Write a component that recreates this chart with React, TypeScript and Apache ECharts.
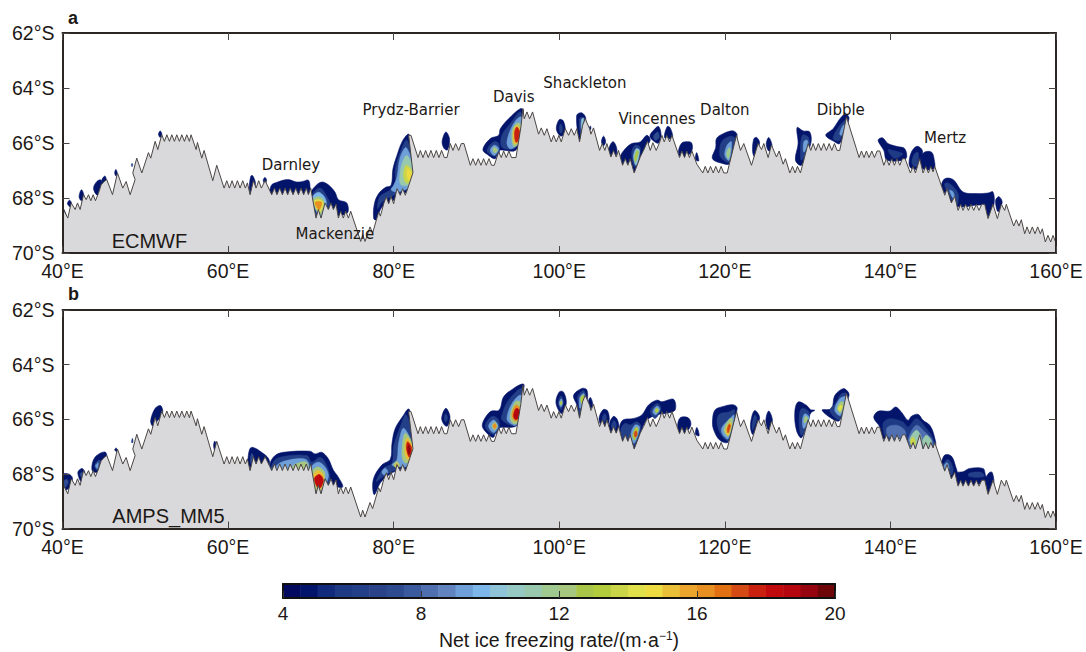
import React, { useEffect, useRef } from "react";
import * as echarts from "echarts";

const lonTicks = { min: 40, max: 160, step: 20 };
const latTicks = { min: -70, max: -62, step: 2 };

// coast, flat lon,lat pairs
const coast = [
40,-68.35, 40.64,-68.73, 41.05,-68.18, 41.53,-68.42, 41.81,-68.18, 42.13,-68.42, 42.54,-67.88, 42.86,-68.06, 43.14,-67.88, 43.42,-68.1, 43.7,-67.88, 43.98,-68.1, 44.35,-67.82, 44.67,-67.52, 45.03,-67.4, 45.35,-67.33, 46.04,-67.88, 46.64,-67.09, 47.28,-67.64, 47.69,-67.4, 48.17,-67.88, 48.77,-67.33, 48.49,-67.09, 48.97,-66.55, 49.58,-67.09, 50.38,-66.35, 50.66,-66.55, 51.19,-65.94, 51.51,-66.24, 51.99,-65.7,
52.31,-65.94, 52.6,-65.7, 52.92,-65.94, 53.2,-65.7, 53.52,-65.94, 53.8,-65.7, 54.12,-65.94, 54.41,-65.7, 54.73,-65.94, 55.01,-65.7, 55.33,-65.94, 55.53,-65.7, 56.14,-66.24, 56.3,-65.98, 56.82,-66.55, 57.1,-66.27, 58.15,-67.37, 58.63,-66.81, 59.52,-67.64, 59.84,-67.37, 60.16,-67.64, 60.48,-67.37, 60.8,-67.64, 61.13,-67.37, 61.45,-67.64, 61.77,-67.37, 62.09,-67.64, 62.33,-67.45, 62.66,-67.88, 63.06,-67.37, 63.38,-67.64, 63.7,-67.37, 64.02,-67.64, 64.47,-67.37,
65.27,-67.88, 65.6,-67.64, 65.9,-67.88, 66.24,-67.64, 66.56,-67.88, 66.88,-67.64, 67.2,-67.88, 67.5,-67.64, 67.85,-67.88, 68.17,-67.64, 68.5,-67.88, 68.8,-67.64, 69.13,-67.88, 69.45,-67.64, 69.7,-67.88, 69.98,-67.64, 70.62,-68.73, 70.9,-68.42, 71.23,-68.73, 71.71,-68.18, 72.11,-68.42, 72.43,-68.18, 72.72,-68.42, 73.04,-68.22, 73.32,-68.73, 73.6,-68.48, 73.92,-68.73, 74.21,-68.48, 74.53,-68.73, 74.81,-68.48, 76.02,-69.58, 76.26,-69.33, 76.54,-69.58, 77.14,-69.05, 77.46,-69.27, 78.19,-68.51,
78.39,-68.66, 78.59,-68.45, 78.79,-68.21, 79.11,-67.96, 79.4,-68.21, 79.68,-67.94, 80,-68.21, 80.4,-67.66, 80.8,-67.9, 81.09,-67.66, 81.41,-67.9, 81.69,-67.66, 82.33,-67.08, 81.81,-65.72, 82.09,-65.72, 82.94,-66.53, 83.22,-66.27, 83.54,-66.53, 83.86,-66.27, 84.18,-66.53, 84.5,-66.27, 84.83,-66.53, 85.15,-66.27, 85.47,-66.53, 85.79,-66.27, 86.12,-66.53, 86.44,-66.53, 86.84,-66.02, 87.16,-66.27, 87.48,-66.02, 87.85,-66.27, 88.17,-66.02, 88.49,-66.02, 89.26,-66.81, 89.58,-66.57, 89.9,-66.81, 90.22,-66.57, 90.54,-66.81, 90.86,-66.57, 91.19,-66.81, 91.51,-66.57, 91.83,-66.81, 92.15,-66.81, 92.68,-66.33, 93,-66.53, 93.28,-66.29, 93.6,-66.53, 93.92,-66.29, 94.24,-66.53, 94.77,-66.53, 95.37,-65.42, 95.61,-64.75, 95.77,-65.12, 96.1,-64.87, 96.42,-65.12, 96.78,-64.87, 97.5,-65.68, 97.83,-65.45, 98.19,-65.72, 98.51,-65.48, 99.03,-65.96, 99.32,-65.72, 99.64,-65.96, 99.96,-65.72, 100.24,-65.96, 100.72,-65.48, 101.13,-65.72, 101.45,-65.48, 101.81,-65.72, 102.13,-65.48, 102.45,-65.96, 102.82,-65.36, 103.14,-65.12, 103.66,-65.48, 103.82,-65.68, 104.14,-65.45, 104.87,-66.27, 105.19,-66.02, 105.51,-66.27, 105.75,-66.02, 106.24,-66.51, 106.56,-66.27, 106.88,-66.51, 107.16,-66.27, 107.65,-66.81, 107.97,-66.57, 108.29,-66.81, 108.57,-66.57, 109.05,-67.09, 109.78,-66.51, 110.18,-66.27, 110.66,-65.94, 110.99,-66.27, 111.31,-65.99, 111.71,-66.27, 112.11,-65.99, 112.4,-65.72, 112.68,-65.96, 113,-65.72, 113.33,-65.96, 113.61,-65.72, 114.53,-66.53, 114.81,-66.29, 115.13,-66.53, 115.41,-66.29, 115.73,-66.53, 116.02,-66.29, 116.62,-66.77, 117.34,-67.09, 117.63,-66.85, 117.95,-67.09, 118.27,-66.85, 118.6,-67.09, 118.9,-66.85, 119.25,-67.09, 119.55,-66.85, 119.88,-67.09,
120.28,-67.09, 121.41,-65.72, 121.89,-66.27, 122.29,-66.02, 123.22,-66.81, 124.02,-66.02, 124.43,-66.24, 124.71,-66.02, 125.23,-66.53, 125.63,-66.07, 126.24,-66.51, 126.56,-66.29, 127.04,-66.77, 127.32,-66.57, 127.85,-67.09, 128.17,-66.85, 128.49,-67.09, 128.77,-66.85, 129.13,-67.09, 130.06,-66.02, 130.38,-66.27, 130.66,-66.02, 130.98,-66.27, 131.3,-66.02, 131.63,-66.27, 131.95,-66.02, 132.27,-66.27, 132.6,-66.02, 132.92,-66.27, 133.24,-66.02, 133.56,-66.27, 133.88,-66.27, 134.69,-65.05, 136.22,-66.53, 136.5,-66.29, 136.82,-66.53, 137.1,-66.29, 137.42,-66.53, 137.75,-66.29, 138.07,-66.53, 138.39,-66.29, 138.71,-66.29, 139.2,-66.81, 139.52,-66.57, 139.84,-66.81, 140.16,-66.57, 140.48,-66.81, 140.8,-66.57, 141.13,-66.81, 141.45,-66.57, 141.77,-66.57, 142.41,-67.09, 142.74,-66.85, 143.02,-67.09, 143.54,-66.57, 143.94,-67.09, 144.27,-66.85, 144.59,-67.09, 144.87,-66.85, 145.15,-67.05, 145.35,-66.85, 146.56,-67.9, 146.84,-67.66, 147.36,-68.18, 147.77,-67.94, 148.17,-68.45, 148.49,-68.23, 148.77,-68.45, 149.09,-68.23, 149.42,-68.45, 149.74,-68.23, 150.06,-68.45, 150.38,-68.23, 150.7,-68.45, 151.03,-68.23, 151.39,-68.23, 151.79,-68.75, 152.39,-68.23, 152.92,-68.75, 153.4,-68.23, 153.8,-68.45, 154,-68.23, 154.89,-69.02, 155.21,-68.79, 155.53,-69.02, 155.81,-68.79, 156.22,-69.3, 156.5,-69.05, 156.82,-69.3, 157.14,-69.05, 157.46,-69.3, 157.79,-69.05, 158.11,-69.3, 158.35,-69.12, 158.71,-69.6, 159.03,-69.36, 159.36,-69.6, 159.64,-69.36, 160,-69.64,
];

const barLevels = [4,4.5,5,5.5,6,6.5,7,7.5,8,8.5,9,9.5,10,10.5,11,11.5,12,12.5,13,13.5,14,14.5,15,15.5,16,16.5,17,17.5,18,18.5,19,19.5];
const barColors = ["#02095e","#03146b","#112a7c","#1f3a85","#233f88","#2a4288","#2f4b8f","#3a5a9d","#4f6fb0","#6184c0","#6f9fd8","#7cb6ea","#8fc3d8","#96c8c4","#98c8ae","#9fc98f","#a6c77d","#aac648","#b2cc3c","#cad648","#dfe04a","#ecdc42","#eabf38","#eba52c","#e88f22","#e07012","#d44a14","#c9200f","#c00a0e","#b5060f","#960410","#6e0508"];

// each layer: freezing rate, then lon,lat pairs of its contour
const blobsA = [
[4.5, 39.8,-68.25, 40.3,-68.5, 40.4,-68.7, 39.8,-68.8],
[4.5, 40.6,-68.2, 40.85,-68.08, 41.1,-68.2, 40.9,-68.32],
[4.5, 42,-67.95, 42.3,-67.7, 42.6,-67.95, 42.3,-68.1],
[4.5, 43.75,-67.65, 44.15,-67.4, 44.65,-67.35, 44.7,-67.75, 44.2,-67.9],
[4.5, 44.7,-67.4, 45.1,-67.2, 45.3,-67.35, 45,-67.6],
[4.5, 46.3,-67.08, 46.45,-66.96, 46.6,-67.08, 46.45,-67.2],
[5.5, 48.32,-66.8, 48.4,-66.74, 48.48,-66.8, 48.4,-66.86],
[4.5, 51.6,-65.68, 51.8,-65.56, 52,-65.68, 51.8,-65.8],
[4.5, 62.55,-67.7, 62.75,-67.2, 63,-67.2, 63.3,-67.5, 62.8,-68],
[4.5, 64.25,-67.35, 64.45,-67.25, 64.65,-67.35, 64.45,-67.5],
[4.5, 65.2,-67.55, 66,-67.42, 67.2,-67.33, 68.3,-67.42, 69,-67.4, 69.7,-67.35, 69.9,-67.6, 69.8,-68, 65.2,-68],
[4.5, 69.98,-67.82, 70.5,-67.58, 71.31,-67.42, 72.11,-67.52, 72.92,-67.79, 73.32,-68.06, 74.33,-68.18, 74.4,-68.55, 72.72,-68.67, 71.11,-68.85, 70.5,-68.55, 69.98,-68.06],
[6, 70.22,-67.88, 71.11,-67.64, 71.91,-67.94, 72.31,-68.3, 71.11,-68.79, 70.5,-68.55],
[9.5, 70.22,-68, 70.9,-67.79, 71.71,-68, 71.83,-68.3, 71.11,-68.67],
[12, 70.3,-68.06, 71.03,-67.96, 71.59,-68.12, 71.11,-68.61],
[14, 70.38,-68.12, 71.03,-68.06, 71.51,-68.18, 71.03,-68.52],
[16, 70.5,-68.16, 71.31,-68.15, 70.99,-68.42],
[4.5, 77.59,-68.75, 77.67,-68.21, 78.19,-67.84, 78.99,-67.62, 79.68,-67.54, 79.92,-66.93, 80.4,-66.45, 81.01,-65.96, 81.69,-65.68, 81.93,-65.72, 82.5,-67.12, 81.93,-67.66, 80,-68.08, 78.59,-68.33, 77.91,-68.79],
[6, 78.07,-68.39, 78.31,-67.96, 79.2,-67.78, 80.2,-67.6, 80.2,-66.99, 80.8,-66.33, 81.61,-65.9, 82.41,-67.05, 81.93,-67.6, 80,-67.9, 78.59,-68.15],
[9, 79.68,-67.7, 80,-67.54, 80.4,-67.24, 80.8,-66.51, 81.53,-66.17, 82.41,-67.05, 81.93,-67.58, 80.4,-67.78],
[11, 80.72,-67.36, 81.01,-66.75, 81.61,-66.45, 82.41,-67.05, 81.93,-67.5, 81,-67.54],
[13.5, 81.21,-67.12, 81.53,-66.81, 82.25,-67.05, 81.81,-67.45, 81.4,-67.42],
[14.5, 81.61,-67.18, 81.69,-66.93, 82.17,-67.12, 81.85,-67.36],
[4.5, 85.85,-65.95, 86.3,-65.6, 86.75,-65.85, 86.5,-66.25, 86.1,-66.2],
[4.5, 90.78,-66.24, 91.67,-65.84, 92.68,-65.72, 92.88,-65.48, 93.88,-65.12, 95.29,-64.75, 95.69,-64.81, 95.29,-65.78, 94.69,-66.27, 92.68,-66.27, 92.27,-66.57, 91.47,-66.45],
[6, 91.27,-66.27, 92.07,-65.96, 92.68,-66.02, 92.68,-66.45, 91.87,-66.45],
[6, 93.08,-65.72, 94.08,-65.3, 95.29,-64.87, 95.49,-65.42, 95.09,-65.96, 94.48,-66.21, 93.08,-66.15],
[9, 91.67,-66.27, 92.15,-66.08, 92.68,-66.21, 92.15,-66.45],
[9, 93.68,-65.96, 94.48,-65.3, 95.37,-65.05, 95.49,-65.54, 95.09,-66.02, 94.08,-66.21],
[12, 91.99,-66.24, 92.15,-66.15, 92.55,-66.27, 92.19,-66.36],
[12, 94.29,-65.6, 94.77,-65.3, 95.29,-65.3, 95.49,-65.6, 95.09,-66.02, 94.48,-66.12],
[15, 94.48,-65.6, 94.89,-65.36, 95.37,-65.6, 95.09,-65.96, 94.57,-66.02],
[17.5, 94.61,-65.6, 94.89,-65.42, 95.25,-65.64, 95.01,-65.94, 94.73,-65.96],
[4.5, 99.65,-65.5, 100,-65.15, 100.5,-65.2, 100.7,-65.6, 100.2,-65.75],
[6, 100,-65.45, 100.2,-65.3, 100.4,-65.5, 100.2,-65.65],
[4.5, 102.1,-65, 102.7,-64.9, 103.2,-65.1, 102.9,-65.8, 102.45,-65.9],
[7, 102.5,-65.1, 103,-65.1, 102.6,-65.7],
[10, 102.7,-65.15, 102.95,-65.1, 102.7,-65.5],
[4.5, 103.65,-65.45, 103.74,-65.38, 103.83,-65.45, 103.74,-65.52],
[4.5, 105.1,-65.95, 105.35,-65.75, 105.6,-65.95, 105.35,-66.1],
[4.5, 106,-66.2, 106.5,-65.95, 106.95,-66.2, 106.8,-66.5, 106.2,-66.45],
[4.5, 107.36,-66.51, 107.97,-66.21, 108.77,-66.02, 109.78,-65.96, 110.58,-65.72, 110.99,-65.9, 110.18,-66.27, 109.78,-66.51, 109.05,-67.09, 108.49,-66.75, 107.56,-66.81],
[6, 108.77,-66.33, 109.17,-66.08, 109.78,-66.17, 109.37,-66.87, 108.97,-66.81],
[10, 108.97,-66.51, 109.29,-66.21, 109.7,-66.27, 109.29,-66.81],
[12.5, 109.09,-66.57, 109.37,-66.27, 109.57,-66.33, 109.21,-66.69],
[4.5, 110.95,-65.75, 111.5,-65.5, 112,-65.4, 112.3,-65.7, 112,-66, 111.5,-65.95],
[7, 111.4,-65.75, 111.9,-65.6, 112.05,-65.8, 111.6,-65.9],
[4.5, 112.7,-65.8, 113.05,-65.4, 113.4,-65.45, 113.7,-65.8, 113.2,-65.85],
[4.5, 114.4,-66.3, 114.8,-66, 115.5,-65.95, 116,-66, 116,-66.3, 115.3,-66.5, 114.6,-66.5],
[4.5, 116.45,-66.6, 116.6,-66.35, 116.85,-66.65],
[4.5, 118.51,-66.57, 118.91,-66.15, 118.99,-65.84, 119.8,-65.66, 121.01,-65.56, 121.49,-65.72, 120.52,-66.75, 119.8,-66.75],
[6, 119.4,-66.45, 119.6,-65.96, 120.6,-65.76, 121.2,-65.84, 120.52,-66.69, 119.88,-66.63],
[9, 120,-66.45, 120.28,-66.08, 120.8,-65.96, 120.52,-66.63],
[11.5, 120.2,-66.39, 120.52,-66.17, 120.68,-66.24, 120.44,-66.57],
[4.5, 123.35,-66.3, 123.5,-65.85, 123.85,-65.8, 124.2,-66, 123.6,-66.5],
[4.5, 125,-66.05, 125.3,-65.8, 125.7,-66.1, 125.35,-66.3],
[4.5, 128.73,-65.44, 129.46,-65.56, 130.26,-65.6, 130.38,-66.02, 129.26,-66.81, 128.53,-66.63, 128.85,-66.02],
[6, 129.13,-66.27, 129.38,-65.72, 130.06,-65.78, 130.2,-66.08, 129.26,-66.63],
[9, 129.54,-65.96, 129.94,-65.9, 130.02,-66.08, 129.54,-66.33],
[4.5, 132.19,-65.72, 133.08,-65.48, 134.08,-65.05, 134.69,-64.96, 135,-65.12, 133.88,-66.02, 133.28,-65.96],
[6, 133.08,-65.84, 133.88,-65.36, 134.6,-65.18, 133.88,-65.9],
[9, 133.88,-65.66, 134.28,-65.36, 134.48,-65.36, 134.08,-65.72],
[4.5, 138.51,-65.9, 139.03,-65.81, 139.71,-66.02, 140.72,-66.12, 141.73,-66.21, 141.85,-66.57, 139.6,-66.63, 139.2,-66.27],
[5.5, 139.7,-66.25, 140.7,-66.3, 141.5,-66.4, 140.5,-66.55],
[4.5, 142.25,-66.75, 142.54,-66.33, 143.22,-66.12, 143.86,-66.27, 143.74,-66.57, 143.34,-66.93, 142.54,-66.93],
[6, 142.6,-66.75, 142.9,-66.4, 143.35,-66.35, 143.2,-66.85],
[4.5, 143.74,-66.51, 144.14,-66.33, 144.95,-66.33, 145.27,-66.57, 145.27,-66.93, 143.86,-66.93],
[4.5, 146.16,-67.6, 146.56,-67.3, 147.57,-67.33, 148.77,-67.78, 150.38,-67.84, 151.79,-67.82, 152.39,-67.78, 152.52,-68.21, 152,-68.69, 151.59,-68.57, 151.19,-68.27, 148.37,-68.33, 147.57,-68.21, 146.76,-67.9],
[6, 146.56,-67.48, 147.16,-67.48, 148.17,-67.84, 147.97,-68.27, 146.96,-67.84],
[9, 147.16,-67.72, 147.57,-67.78, 147.77,-68.08, 147.36,-67.9],
[4.5, 152.7,-68.1, 153.1,-67.95, 153.5,-68.15, 153,-68.5],
];

const blobsB = [
[4.5, 39.8,-68.05, 40.7,-68, 41.2,-68.15, 40.9,-68.5, 40.4,-68.6, 39.8,-68.8],
[7, 40.1,-68.3, 40.5,-68.2, 40.7,-68.3, 40.3,-68.5],
[4.5, 41.85,-67.95, 42.35,-67.8, 42.7,-67.95, 42.3,-68.3],
[7, 42.1,-68, 42.4,-67.95, 42.4,-68.15],
[4.5, 43.55,-67.85, 43.9,-67.4, 45.15,-67.2, 45.35,-67.55, 44.7,-67.75, 44.1,-67.95],
[7, 43.9,-67.7, 44.35,-67.5, 44.6,-67.55, 44.2,-67.85],
[9, 44,-67.7, 44.3,-67.6, 44.2,-67.8],
[4.5, 46.3,-67.12, 46.5,-67.05, 46.6,-67.2],
[5, 48.35,-66.85, 48.45,-66.7, 48.5,-66.85],
[4.5, 50.65,-66.05, 51.2,-65.6, 51.85,-65.5, 52.1,-65.75, 51.5,-66.05, 50.9,-66.25],
[4.5, 58.25,-66.95, 58.4,-66.8, 58.65,-67.1, 58.4,-67.15],
[4.5, 62.4,-67.6, 62.6,-67.1, 63,-67.03, 64,-67.2, 64.9,-67.45, 64.9,-67.7, 63,-67.8, 62.6,-67.9],
[7, 62.7,-67.55, 62.85,-67.25, 63.1,-67.4, 63,-67.7],
[4.5, 65.07,-67.63, 65.67,-67.33, 66.68,-67.21, 69.9,-67.17, 70.5,-67.27, 71.31,-67.21, 72.11,-67.45, 72.72,-67.87, 73.32,-68.12, 73.84,-68.48, 72.72,-68.48, 71.31,-68.72, 70.5,-68.72, 69.7,-68.12, 65.27,-68.12],
[6, 65.27,-67.69, 66.08,-67.41, 69.5,-67.33, 70.1,-67.57, 71.11,-67.39, 71.71,-67.57, 72.31,-68.12, 72.11,-68.36, 71.11,-68.72, 69.7,-68, 65.27,-68],
[9, 65.88,-67.69, 67.08,-67.51, 69.42,-67.48, 69.7,-67.87, 65.88,-67.87],
[9, 70.1,-67.75, 70.9,-67.57, 71.71,-67.75, 72.11,-68.12, 71.1,-68.66, 70.5,-68.48],
[12, 67.89,-67.69, 69.42,-67.57, 69.58,-67.87, 67.89,-67.87],
[12, 70.1,-67.93, 70.9,-67.75, 71.71,-68, 71.03,-68.66, 70.3,-68.48],
[15, 70.3,-68.06, 70.9,-67.87, 71.59,-68.12, 71.03,-68.63, 70.62,-68.42],
[18, 70.42,-68.18, 71.03,-68.02, 71.51,-68.24, 70.99,-68.54],
[4.5, 77.46,-68.46, 77.67,-68.09, 78.59,-67.67, 79.6,-67.46, 79.8,-66.88, 80.2,-66.33, 81.21,-65.84, 81.69,-65.63, 81.93,-65.66, 82.41,-67.06, 81.93,-67.79, 80.6,-67.85, 79.2,-68.09, 78.39,-68.33, 77.67,-68.76],
[6, 77.91,-68.27, 78.79,-67.79, 79.8,-67.61, 80,-67, 80.8,-66.27, 81.53,-65.84, 82.41,-67.06, 81.93,-67.73, 80.6,-67.79, 78.79,-68.09],
[9, 78.59,-67.91, 78.99,-67.79, 79.28,-67.95, 78.79,-68.03],
[9, 79.8,-67.67, 80.4,-67.48, 80.6,-66.88, 81.21,-66.33, 82.33,-67.06, 81.93,-67.67, 80.6,-67.73],
[12, 80,-67.67, 80.4,-67.55, 80.72,-67.7, 80.4,-67.79],
[12, 81.01,-67.12, 81.41,-66.51, 82.41,-67.06, 81.93,-67.58, 81.21,-67.55],
[15, 80.25,-67.7, 80.4,-67.6, 80.55,-67.72, 80.4,-67.8],
[15, 81.33,-67.12, 81.61,-66.69, 82.29,-67.06, 81.93,-67.51, 81.53,-67.42],
[17.5, 81.53,-67.06, 81.69,-66.82, 82.17,-67.06, 81.89,-67.39],
[19, 81.69,-67.06, 81.81,-66.94, 82.01,-67.12, 81.85,-67.3],
[4.5, 85.8,-65.95, 86.3,-65.6, 86.8,-65.9, 86.5,-66.25, 86.1,-66.2],
[6, 86.1,-65.95, 86.3,-65.8, 86.5,-65.95, 86.3,-66.1],
[4.5, 90.7,-66.21, 91.67,-65.72, 92.76,-65.66, 93.28,-65.18, 94.49,-64.87, 95.49,-64.71, 95.77,-64.75, 95.09,-66.03, 94.69,-66.27, 92.47,-66.33, 92.07,-66.66, 91.27,-66.51],
[6, 91.07,-66.25, 91.87,-65.9, 92.68,-66.03, 92.68,-66.45, 91.87,-66.54],
[6, 93.08,-65.84, 93.88,-65.3, 95.49,-64.87, 95.29,-65.72, 94.89,-66.09, 94.48,-66.25, 93.08,-66.03],
[9, 91.47,-66.25, 92.07,-66.03, 92.6,-66.25, 92.07,-66.49],
[9, 93.68,-65.97, 94.29,-65.42, 95.37,-65.12, 95.37,-65.72, 94.81,-66.21, 94.08,-66.15],
[12, 91.87,-66.25, 92.19,-66.11, 92.52,-66.25, 92.19,-66.39],
[12, 94.08,-65.84, 94.69,-65.36, 95.29,-65.36, 95.49,-65.72, 94.89,-66.15, 94.29,-66.12],
[16, 92,-66.25, 92.2,-66.15, 92.4,-66.25, 92.2,-66.35],
[16, 94.29,-65.84, 94.77,-65.48, 95.37,-65.66, 95.01,-66.03, 94.57,-66.05],
[18.5, 94.49,-65.84, 94.81,-65.6, 95.25,-65.71, 94.97,-65.98, 94.65,-66],
[4.5, 99.6,-65.4, 100,-65, 100.5,-65, 100.85,-65.4, 100.3,-65.8],
[6, 99.9,-65.4, 100.2,-65.15, 100.5,-65.35, 100.2,-65.65],
[9, 100,-65.4, 100.25,-65.25, 100.4,-65.4, 100.2,-65.55],
[13, 100.1,-65.4, 100.25,-65.33, 100.32,-65.42, 100.2,-65.48],
[4.5, 101.73,-65.12, 102.74,-64.87, 103.34,-64.93, 103.34,-65.36, 102.45,-65.93, 102.13,-65.48],
[6, 102.21,-65.18, 102.94,-64.95, 103.22,-65.24, 102.45,-65.85, 102.33,-65.42],
[9, 102.45,-65.24, 102.94,-65.05, 103.1,-65.24, 102.53,-65.6],
[13, 102.61,-65.2, 102.9,-65.12, 102.94,-65.27, 102.69,-65.42],
[4.5, 103.5,-65.4, 103.75,-65.2, 104.05,-65.45, 103.8,-65.6],
[4.5, 104.8,-66, 105.3,-65.65, 105.85,-65.7, 106,-66.1, 105.3,-66.3],
[6, 105.2,-65.95, 105.5,-65.8, 105.7,-65.95, 105.4,-66.1],
[4.5, 106,-66.3, 106.5,-65.9, 107,-66, 107.2,-66.4, 106.6,-66.6],
[6, 106.3,-66.25, 106.6,-66.05, 106.9,-66.2, 106.6,-66.4],
[4.5, 107.28,-66.33, 107.69,-66.03, 108.97,-65.97, 109.98,-65.84, 110.78,-65.48, 111.79,-65.3, 112.39,-65.36, 113.8,-65.27, 114,-65.66, 113,-65.78, 111.79,-65.84, 110.58,-66.03, 109.78,-66.51, 109.05,-67.06, 108.49,-66.76, 107.56,-66.82],
[6, 107.44,-66.39, 107.97,-66.15, 108.57,-66.21, 109.37,-66.09, 109.86,-66.27, 109.05,-67, 108.37,-66.7, 107.77,-66.76],
[6, 110.99,-65.72, 111.79,-65.42, 112.27,-65.6, 111.59,-65.97],
[9, 108.65,-66.57, 109.17,-66.21, 109.7,-66.29, 109.05,-66.88],
[9, 111.31,-65.72, 111.79,-65.52, 112.15,-65.64, 111.63,-65.84],
[13, 108.89,-66.57, 109.29,-66.29, 109.53,-66.37, 109.09,-66.76],
[13, 111.59,-65.66, 111.79,-65.6, 111.99,-65.68, 111.71,-65.76],
[17, 109.05,-66.51, 109.29,-66.42, 109.41,-66.57, 109.17,-66.66],
[4.5, 114.3,-66.3, 114.6,-65.95, 115.6,-65.95, 115.9,-66.2, 115.4,-66.45, 114.7,-66.55],
[4.5, 116.45,-66.55, 116.62,-66.3, 116.9,-66.6],
[4.5, 118.51,-66.1, 118.79,-65.67, 119.8,-65.53, 121.01,-65.47, 121.49,-65.61, 120.4,-66.83, 119.4,-66.77, 118.67,-66.4],
[6, 119.07,-66.16, 119.32,-65.82, 120.4,-65.74, 121.2,-65.67, 120.4,-66.77, 119.6,-66.59],
[9, 119.6,-66.34, 120.4,-66.04, 121.13,-65.86, 120.4,-66.71, 119.8,-66.59],
[12, 119.88,-66.4, 120.52,-66.01, 120.93,-65.98, 120.44,-66.62],
[15, 120.12,-66.4, 120.52,-66.16, 120.8,-66.16, 120.4,-66.59],
[17, 120.28,-66.38, 120.52,-66.18, 120.68,-66.23, 120.4,-66.5],
[4.5, 123.1,-66.3, 123.3,-65.85, 123.65,-65.68, 124.2,-65.95, 123.4,-66.55],
[6, 123.3,-66.2, 123.6,-65.85, 123.85,-65.95, 123.35,-66.4],
[4.5, 124.95,-66.05, 125.3,-65.7, 125.75,-66.05, 125.3,-66.4],
[4.5, 128.45,-65.74, 128.85,-65.37, 129.86,-65.49, 130.38,-65.65, 130.86,-65.67, 130.38,-65.77, 130.06,-66.04, 129.26,-66.68, 128.65,-66.4],
[6, 128.97,-66.04, 129.26,-65.61, 130.06,-65.7, 130.18,-65.98, 129.26,-66.59],
[9, 129.38,-66.04, 129.66,-65.8, 130.18,-65.94, 129.54,-66.34],
[12, 129.58,-66.01, 129.78,-65.89, 130.02,-65.98, 129.66,-66.14],
[4.5, 131.75,-65.67, 132.88,-65.61, 133.28,-65.13, 134.28,-64.88, 134.81,-64.97, 135,-65.13, 133.88,-66.04, 133.28,-66.04],
[6, 132.68,-65.7, 133.48,-65.37, 134.08,-65.07, 134.69,-65.07, 133.88,-66.01],
[9, 133.28,-65.67, 133.88,-65.25, 134.57,-65.19, 133.96,-65.86],
[12, 133.56,-65.61, 133.96,-65.37, 134.36,-65.41, 133.96,-65.77],
[14, 133.72,-65.61, 134,-65.49, 134.2,-65.52, 133.92,-65.7],
[4.5, 137.99,-65.94, 138.51,-65.71, 139.92,-65.7, 140.64,-65.55, 141.33,-65.74, 142.13,-66.04, 142.54,-65.89, 143.34,-65.82, 143.94,-66.04, 144.75,-66.22, 145.27,-66.59, 145.35,-67.01, 142.74,-67.01, 142.13,-66.89, 141.73,-66.71, 139.11,-66.71, 138.71,-66.28],
[5.5, 139.11,-66.16, 139.92,-65.98, 141.53,-66.1, 142.13,-66.28, 143.14,-65.98, 144.35,-66.34, 145.15,-66.71, 145.15,-67, 142.33,-67, 141.93,-66.71, 139.6,-66.71],
[8, 139.6,-66.31, 140.72,-66.22, 141.73,-66.4, 141.73,-66.65, 139.8,-66.65],
[8, 142.25,-66.65, 143.14,-66.22, 144.14,-66.46, 145.07,-66.77, 145.07,-67, 142.33,-67],
[11, 142.33,-66.77, 143.14,-66.4, 143.74,-66.71, 143.14,-67.01],
[11, 143.86,-66.83, 144.35,-66.59, 144.95,-66.83, 144.35,-67.07],
[13.5, 142.46,-66.77, 142.74,-66.65, 143.02,-66.89, 142.54,-66.95],
[4.5, 146.16,-67.68, 146.56,-67.31, 147.36,-67.35, 147.89,-67.74, 148.05,-67.98, 147.57,-68.2, 146.56,-67.86],
[6, 146.36,-67.68, 146.96,-67.47, 147.57,-67.8, 147.36,-68.04, 146.56,-67.8],
[9, 146.48,-67.72, 146.84,-67.59, 147.08,-67.8, 146.76,-67.88],
[4.5, 147.77,-67.98, 148.77,-67.92, 149.58,-67.8, 151.19,-67.8, 151.43,-67.98, 151.5,-68.29, 148.17,-68.41],
[6, 149.5,-67.98, 151,-67.95, 151.3,-68.1, 149.5,-68.1],
[4.5, 151.5,-68.2, 151.95,-67.95, 152.3,-67.95, 152.5,-68.4, 152,-68.85, 151.7,-68.6],
];

const placeNames = ["Darnley", "Mackenzie", "Prydz-Barrier", "Davis", "Shackleton", "Vincennes", "Dalton", "Dibble", "Mertz"];
const placeLons = [67.6, 72.9, 82.1, 94.5, 103.1, 111.8, 120, 134, 146.6];
const placeLats = [-66.8, -69.31, -64.8, -64.32, -63.83, -65.13, -64.8, -64.8, -65.82];

const SANS = "Liberation Sans";
const INK = "#1c1816";
const EDGE = "#2b2523";

const levelColor = (v: number) => barColors[Math.min(barColors.length - 1, Math.max(0, Math.floor((v - 4) / 0.5)))];

const pairs = (flat: number[]) => {
  const out: number[][] = [];
  for (let i = 0; i + 1 < flat.length; i += 2) out.push([flat[i], flat[i + 1]]);
  return out;
};

function panelAxes(gridIndex: number) {
  const common = { gridIndex, z: 5, splitLine: { show: false }, axisLine: { show: true, onZero: false, lineStyle: { color: EDGE, width: 2 } } };
  const tick = { show: true, inside: true, length: 7, lineStyle: { color: "#4a4542", width: 1 } };
  const xBase = { ...common, type: "value", min: lonTicks.min, max: lonTicks.max, interval: lonTicks.step, axisTick: tick };
  const yBase = { ...common, type: "value", min: latTicks.min, max: latTicks.max, interval: latTicks.step, axisTick: tick };
  const labelStyle = { show: true, color: INK, fontFamily: SANS, fontSize: 19.5, margin: 8 };
  return {
    x: [
      { ...xBase, position: "bottom", axisLabel: { ...labelStyle, formatter: (v: number) => `${v}°E` } },
      { ...xBase, position: "top", axisLabel: { show: false } },
    ],
    y: [
      { ...yBase, position: "left", axisLabel: { ...labelStyle, formatter: (v: number) => `${-v}°S` } },
      { ...yBase, position: "right", axisLabel: { show: false } },
    ],
  };
}

function blobSeries(layers: number[][], axisIndex: number) {
  return {
    type: "custom",
    xAxisIndex: axisIndex,
    yAxisIndex: axisIndex,
    z: 2,
    clip: true,
    silent: true,
    data: layers.map((_, i) => [i]),
    renderItem: (params: any, api: any) => {
      const layer = layers[params.dataIndex];
      const points = pairs(layer.slice(1)).map((p) => api.coord(p));
      const color = levelColor(layer[0]);
      return { type: "polygon", shape: { points, smooth: 0.35 }, style: { fill: color, stroke: color, lineWidth: 0.6 } };
    },
  };
}

function landSeries(axisIndex: number) {
  return {
    type: "line",
    xAxisIndex: axisIndex,
    yAxisIndex: axisIndex,
    z: 3,
    showSymbol: false,
    symbol: "none",
    silent: true,
    data: pairs(coast),
    lineStyle: { color: "#4b4644", width: 1 },
    areaStyle: { color: "#d9d9db", opacity: 1, origin: "start" },
  };
}

function textSeries(names: string[], lons: number[], lats: number[], axisIndex: number, font: string, size: number) {
  return {
    type: "custom",
    xAxisIndex: axisIndex,
    yAxisIndex: axisIndex,
    z: 6,
    clip: false,
    silent: true,
    data: names.map((_, i) => [lons[i], lats[i]]),
    renderItem: (params: any, api: any) => {
      const i = params.dataIndex;
      const c = api.coord([lons[i], lats[i]]);
      return {
        type: "text",
        x: c[0],
        y: c[1],
        style: { text: names[i], fontFamily: font, fontSize: size, fill: INK, align: "center", verticalAlign: "middle" },
      };
    },
  };
}

export default function App() {
  const ref = useRef<HTMLDivElement>(null);
  useEffect(() => {
    if (!ref.current) return;
    const chart = echarts.init(ref.current, undefined, { renderer: "svg" });
    const a = panelAxes(0);
    const b = panelAxes(1);
    const barEdge = { show: true, onZero: false, lineStyle: { color: "#111", width: 2 } };
    chart.setOption({
      animation: false,
      backgroundColor: "#ffffff",
      grid: [
        { left: 62.5, top: 33, width: 993.5, height: 220, outerBoundsMode: "none" },
        { left: 62.5, top: 310, width: 993.5, height: 218.5, outerBoundsMode: "none" },
        { left: 283, top: 584, width: 552, height: 14, outerBoundsMode: "none" },
      ],
      xAxis: [
        ...a.x,
        ...b.x,
        {
          gridIndex: 2, type: "value", min: 4, max: 20, interval: 4, position: "bottom", z: 5,
          splitLine: { show: false }, axisLine: barEdge,
          axisTick: { show: true, inside: true, length: 7, lineStyle: { color: "#333", width: 1 } },
          axisLabel: { color: INK, fontFamily: SANS, fontSize: 19, margin: 6 },
          name: "{a|Net ice freezing rate/(m·a}{s|−1}{a|)}",
          nameLocation: "middle",
          nameGap: 32,
          nameTextStyle: {
            rich: {
              a: { fontFamily: SANS, fontSize: 19.5, color: INK },
              s: { fontFamily: SANS, fontSize: 12, color: INK, verticalAlign: "top", lineHeight: 20 },
            },
          },
        },
        { gridIndex: 2, type: "value", min: 4, max: 20, interval: 4, position: "top", z: 5, splitLine: { show: false }, axisLine: barEdge, axisTick: { show: false }, axisLabel: { show: false } },
      ],
      yAxis: [
        ...a.y,
        ...b.y,
        { gridIndex: 2, type: "value", min: 0, max: 1, position: "left", z: 5, splitLine: { show: false }, axisLine: barEdge, axisTick: { show: false }, axisLabel: { show: false } },
        { gridIndex: 2, type: "value", min: 0, max: 1, position: "right", z: 5, splitLine: { show: false }, axisLine: barEdge, axisTick: { show: false }, axisLabel: { show: false } },
      ],
      series: [
        blobSeries(blobsA, 0),
        landSeries(0),
        blobSeries(blobsB, 2),
        landSeries(2),
        textSeries(placeNames, placeLons, placeLats, 0, "DejaVu Sans", 15),
        textSeries(["ECMWF"], [50.5], [-69.56], 0, SANS, 20),
        textSeries(["AMPS_MM5"], [52.8], [-69.55], 2, SANS, 20),
        {
          type: "custom",
          xAxisIndex: 4,
          yAxisIndex: 4,
          z: 2,
          silent: true,
          data: barLevels.map((v) => [v, 0]),
          renderItem: (params: any, api: any) => {
            const lo = barLevels[params.dataIndex];
            const p0 = api.coord([lo, 1]);
            const p1 = api.coord([lo + 0.5, 0]);
            return {
              type: "rect",
              shape: { x: p0[0], y: p0[1], width: p1[0] - p0[0] + 0.5, height: p1[1] - p0[1] },
              style: { fill: barColors[params.dataIndex] },
            };
          },
        },
      ],
      graphic: [
        { type: "text", x: 68, y: 9, style: { text: "a", fontFamily: SANS, fontWeight: "bold", fontSize: 18, fill: INK } },
        { type: "text", x: 68, y: 285, style: { text: "b", fontFamily: SANS, fontWeight: "bold", fontSize: 18, fill: INK } },
      ],
    });
    return () => chart.dispose();
  }, []);
  return <div ref={ref} style={{ position: "absolute", left: 0, top: 0, width: 1086, height: 652 }} />;
}
